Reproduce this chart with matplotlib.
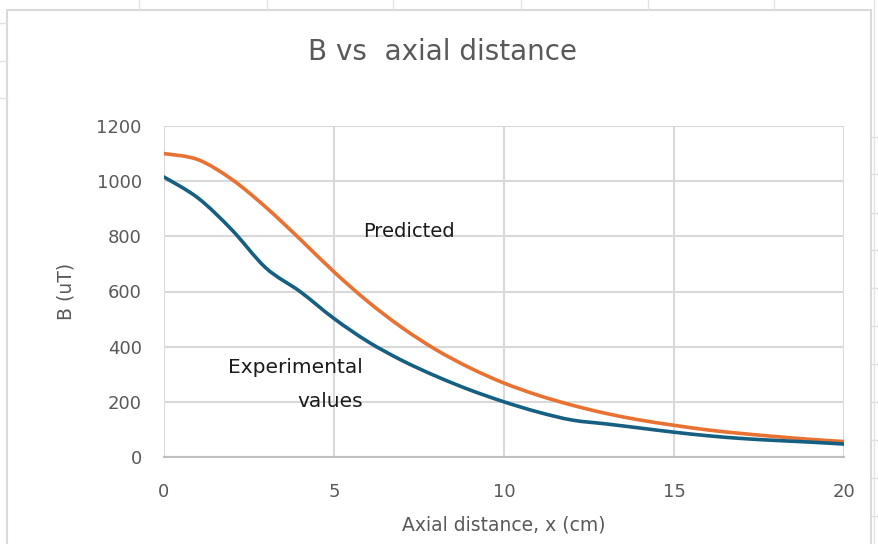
import matplotlib.pyplot as plt
from matplotlib.lines import Line2D
from matplotlib.patches import Rectangle, PathPatch
from matplotlib.path import Path
from matplotlib import font_manager
import numpy as np

# donnees
x_cm = [0, 1, 2, 3, 4, 5, 6, 7, 8, 9, 10, 11, 12, 13, 14, 15, 16, 17, 18, 19, 20]
b_pred = [1100, 1078, 1006, 905, 790, 671, 563, 469, 389, 323, 268,
          224, 188, 158, 134, 115, 98, 85, 74, 64, 56]
b_exp = [1015, 939, 823, 685, 600, 502, 418, 350, 293, 243, 200,
         163, 134, 120, 105, 90, 77, 67, 60, 54, 47]

yticks = [0, 200, 400, 600, 800, 1000, 1200]
xticks = [0, 5, 10, 15, 20]

noms = {f.name for f in font_manager.fontManager.ttflist}
narrow = [n for n in ['Liberation Sans Narrow', 'DejaVu Sans Condensed'] if n in noms] + ['DejaVu Sans']
gris = '#595959'


# ligne lissee facon excel : courbes de bezier passant par les points
def ligne_lissee(ax, x, y, couleur):
    x = np.asarray(x, float)
    y = np.asarray(y, float)
    verts = [(x[0], y[0])]
    codes = [Path.MOVETO]
    n = len(x)
    for i in range(n - 1):
        i0 = max(i - 1, 0)
        i3 = min(i + 2, n - 1)
        c1 = (x[i] + (x[i + 1] - x[i0]) / 6, y[i] + (y[i + 1] - y[i0]) / 6)
        c2 = (x[i + 1] - (x[i3] - x[i]) / 6, y[i + 1] - (y[i3] - y[i]) / 6)
        verts += [c1, c2, (x[i + 1], y[i + 1])]
        codes += [Path.CURVE4] * 3
    ax.add_patch(PathPatch(Path(verts, codes), fill=False, edgecolor=couleur,
                           lw=2.6, capstyle='round', joinstyle='round'))


fig = plt.figure(figsize=(8.79, 5.44), dpi=100)
fig.patch.set_facecolor('white')

# lignes de la feuille excel autour du graphe
for xp in [139, 267, 393, 521, 648, 774]:
    fig.add_artist(Line2D([xp/879, xp/879], [1, 1 - 10/544], color='#E3E3E3', lw=1))
for yp in [23, 61, 98]:
    fig.add_artist(Line2D([0, 7/879], [1 - yp/544, 1 - yp/544], color='#E3E3E3', lw=1))
for yp in [137, 174, 213, 250, 288, 326, 364, 402, 440, 478, 516]:
    fig.add_artist(Line2D([871/879, 1], [1 - yp/544, 1 - yp/544], color='#E3E3E3', lw=1))
fig.add_artist(Line2D([874/879, 874/879], [0, 1], color='#E3E3E3', lw=1))
fig.add_artist(Rectangle((7/879, -0.01), (871 - 7)/879, 1 - 10/544 + 0.01,
                         fill=False, edgecolor='#D9D9D9', lw=1.5))

ax = fig.add_axes([164/879, 1 - 457/544, (844 - 164)/879, (457 - 126)/544])

ligne_lissee(ax, x_cm, b_pred, '#E97132')
ligne_lissee(ax, x_cm, b_exp, '#156082')

ax.set_xlim(0, 20)
ax.set_ylim(0, 1200)
ax.set_xticks(xticks)
ax.set_yticks(yticks)
ax.grid(True, color='#D9D9D9', lw=1.5)
ax.set_axisbelow(True)
for s in ['top', 'right', 'left']:
    ax.spines[s].set_visible(False)
ax.spines['bottom'].set_color('#BFBFBF')
ax.spines['bottom'].set_linewidth(1.5)
ax.tick_params(length=0, labelcolor=gris, labelsize=13)
ax.tick_params(axis='x', pad=19)
ax.tick_params(axis='y', pad=16)
for lab in ax.get_xticklabels() + ax.get_yticklabels():
    lab.set_family(narrow)

ax.set_xlabel("Axial distance, x (cm)", fontsize=13.5, color=gris, family=narrow, labelpad=10)
ax.set_ylabel("B (uT)", fontsize=13.5, color=gris, family=narrow, labelpad=15)

fig.text(443/879, 1 - 52/544, "B vs  axial distance", fontsize=20, color=gris,
         family=narrow, ha='center', va='center')

ax.text(7.2, 816, "Predicted", fontsize=14, color='#1a1a1a', ha='center', va='center')
ax.text(5.86, 263, "Experimental\nvalues", fontsize=14.5, color='#1a1a1a', family=narrow,
        ha='right', va='center', linespacing=2.05)

fig.savefig("out.png", dpi=100)
